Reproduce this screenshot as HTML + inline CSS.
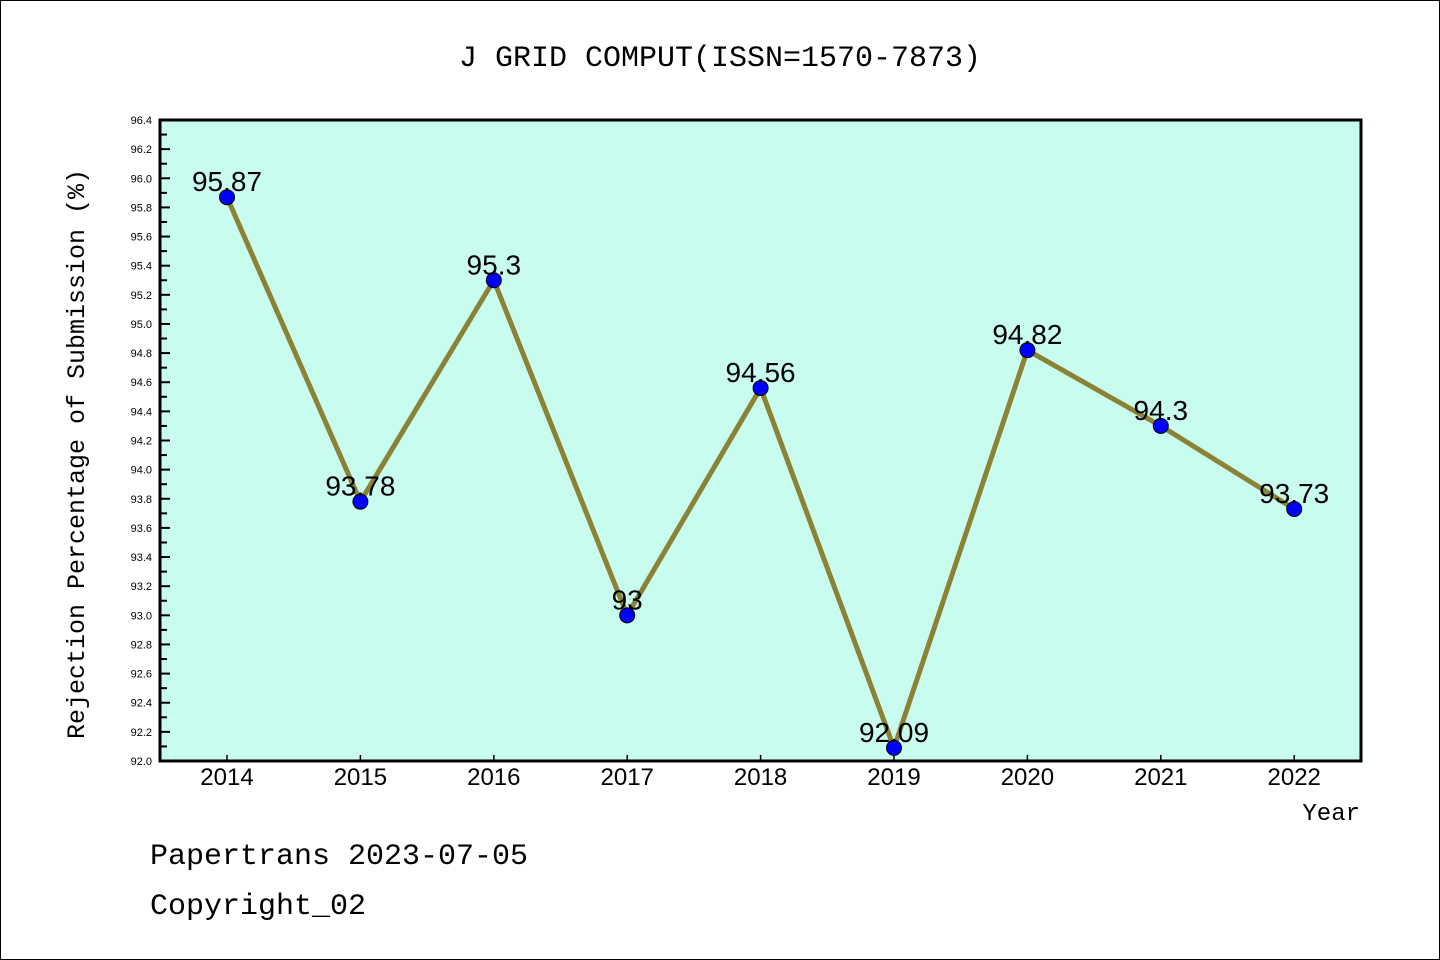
<!DOCTYPE html>
<html><head><meta charset="utf-8"><style>
html,body{margin:0;padding:0;background:#fff}
svg{display:block}
</style></head><body>
<svg id="chart" width="1440" height="960" xmlns="http://www.w3.org/2000/svg">
<rect x="0.5" y="0.5" width="1439" height="959" fill="#fff" stroke="#000"/>
<text x="720" y="66" text-anchor="middle" font-family="Liberation Mono, monospace" font-size="30">J GRID COMPUT(ISSN=1570-7873)</text>
<rect x="160" y="120" width="1201" height="641" fill="#c8fcee"/>
<g id="axes"></g>
<g id="series"></g>
<rect x="160" y="120" width="1201" height="641" fill="none" stroke="#000" stroke-width="3"/>
<text transform="translate(84,454) rotate(-90)" text-anchor="middle" font-family="Liberation Mono, monospace" font-size="25">Rejection Percentage of Submission (%)</text>
<text x="1360" y="820" text-anchor="end" font-family="Liberation Mono, monospace" font-size="24">Year</text>
<text x="150" y="864" font-family="Liberation Mono, monospace" font-size="30">Papertrans 2023-07-05</text>
<text x="150" y="914" font-family="Liberation Mono, monospace" font-size="30">Copyright_02</text>
</svg>
<script>
const years = ['2014','2015','2016','2017','2018','2019','2020','2021','2022'];
const rates = [95.87, 93.78, 95.3, 93, 94.56, 92.09, 94.82, 94.3, 93.73];
const valueLabels = ['95.87','93.78','95.3','93','94.56','92.09','94.82','94.3','93.73'];
const yTicks = ['92.0','92.2','92.4','92.6','92.8','93.0','93.2','93.4','93.6','93.8','94.0','94.2','94.4','94.6','94.8','95.0','95.2','95.4','95.6','95.8','96.0','96.2','96.4'];

const NS='http://www.w3.org/2000/svg';
const yMin=92.0,yMax=96.4,plotTop=120,plotBottom=761,plotLeft=160;
function yScale(v){return plotBottom-(v-yMin)/(yMax-yMin)*(plotBottom-plotTop);}
function xScale(i){return 227+i*133.4;}
function mk(tag,attrs,parent){const e=document.createElementNS(NS,tag);for(const k in attrs)e.setAttribute(k,attrs[k]);parent.appendChild(e);return e;}
const axesG=document.getElementById('axes');
const seriesG=document.getElementById('series');

yTicks.forEach((t,i)=>{
  const y=yScale(parseFloat(t));
  const tk=mk('line',{x1:plotLeft,x2:plotLeft+10,y1:y,y2:y,stroke:'#000','stroke-width':2},axesG);
  
  
  const lb=mk('text',{x:152,y:y+4,'text-anchor':'end','font-family':'Liberation Sans, sans-serif','font-size':11},axesG);
  lb.textContent=t;
  
  
  if(i<yTicks.length-1){
    const ym=yScale(parseFloat(t)+0.1);
    const mt=mk('line',{x1:plotLeft,x2:plotLeft+7,y1:ym,y2:ym,stroke:'#000','stroke-width':2},axesG);
    
    
  }
});
years.forEach((yr,i)=>{
  const x=xScale(i);
  const tk=mk('line',{x1:x,x2:x,y1:plotBottom,y2:plotBottom-6,stroke:'#000','stroke-width':1.5},axesG);
  
  
  const lb=mk('text',{x:x,y:785,'text-anchor':'middle','font-family':'Liberation Sans, sans-serif','font-size':24},axesG);
  lb.textContent=yr;
  
  
});
const pts=rates.map((v,i)=>xScale(i)+','+yScale(v)).join(' ');
const line=mk('polyline',{points:pts,fill:'none',stroke:'#8b8236','stroke-width':5,'stroke-linejoin':'round'},seriesG);


rates.forEach((v,i)=>{
  const c=mk('circle',{cx:xScale(i),cy:yScale(v),r:7.5,fill:'#0000ff',stroke:'#000','stroke-width':1},seriesG);
  
  
  const t=mk('text',{x:xScale(i),y:yScale(v)-6,'text-anchor':'middle','font-family':'Liberation Sans, sans-serif','font-size':28},seriesG);
  t.textContent=valueLabels[i];
  
  
});
</script>
</body></html>
